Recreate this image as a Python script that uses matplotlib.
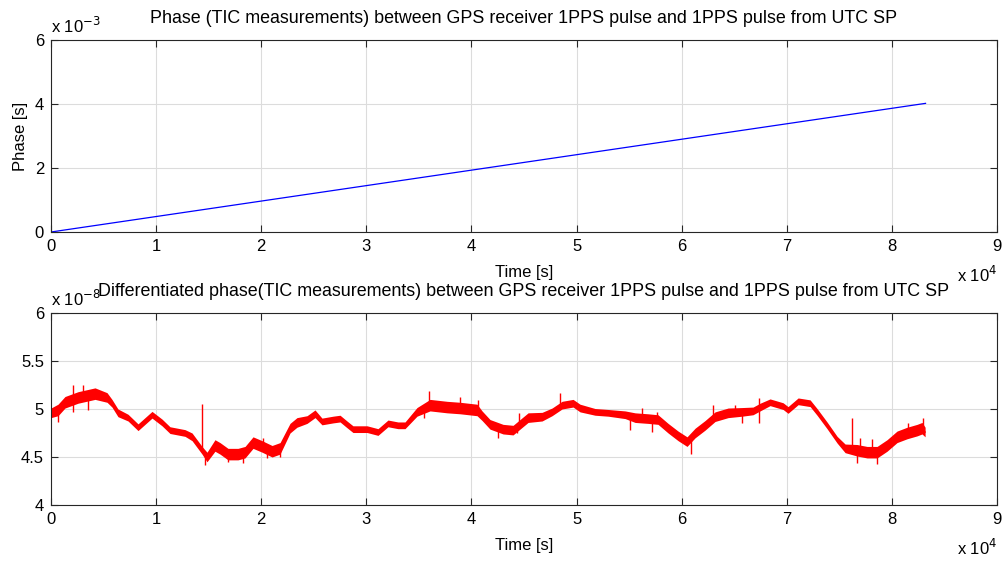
import numpy as np
import matplotlib
matplotlib.use("Agg")
import matplotlib.pyplot as plt

# ---------------- data ----------------
# top: phase (linear drift)
phase_time = [0, 83200]
phase_ms = [0.0, 4.02]          # x 1e-3 s

# bottom: differentiated phase, centre of the noisy band (x 1e-8)
diff_time = [0, 670, 1330, 2570, 4190, 5330, 5800, 6370, 7330, 8280, 9610, 10560,
             11320, 12750, 13420, 14370, 14840, 15600, 16080, 16840, 17790, 18460,
             19220, 20080, 21030, 21790, 22740, 23400, 24360, 25120, 25780, 26830,
             27500, 28160, 28730, 30070, 31110, 32060, 33010, 33680, 34820, 36060,
             37680, 38920, 40530, 41010, 41770, 43010, 43960, 44620, 45390, 46720,
             47670, 48620, 49670, 50330, 51760, 53000, 54620, 55570, 56800, 57750,
             58710, 59660, 60510, 61280, 62230, 63180, 64420, 65750, 66790, 67460,
             68410, 69650, 70120, 71080, 72220, 72880, 73830, 74790, 75550, 76690,
             77640, 78590, 79540, 80490, 81450, 82400, 82870, 83160]
diff_val = [4.96, 4.99, 5.07, 5.12, 5.16, 5.12, 5.06, 4.96, 4.91, 4.81, 4.94, 4.86,
            4.78, 4.75, 4.71, 4.57, 4.50, 4.62, 4.59, 4.53, 4.53, 4.55,
            4.65, 4.61, 4.56, 4.59, 4.80, 4.86, 4.89, 4.95, 4.87, 4.89,
            4.90, 4.84, 4.79, 4.79, 4.76, 4.85, 4.83, 4.83, 4.97, 5.04,
            5.02, 5.01, 4.99, 4.93, 4.84, 4.79, 4.78, 4.84, 4.91, 4.92,
            4.97, 5.04, 5.06, 5.01, 4.97, 4.96, 4.94, 4.91, 4.90, 4.89,
            4.80, 4.72, 4.66, 4.75, 4.83, 4.92, 4.96, 4.97, 4.98, 5.02,
            5.07, 5.03, 4.99, 5.08, 5.06, 4.97, 4.83, 4.68, 4.59, 4.57,
            4.55, 4.55, 4.62, 4.71, 4.75, 4.78, 4.80, 4.76]
# half thickness of the noise band (x 1e-8)
diff_halfwidth = [0.05, 0.06, 0.06, 0.06, 0.06, 0.05, 0.04, 0.04, 0.035, 0.035, 0.035, 0.035,
                  0.035, 0.035, 0.04, 0.04, 0.05, 0.06, 0.06, 0.06, 0.06, 0.06,
                  0.06, 0.06, 0.06, 0.06, 0.05, 0.05, 0.04, 0.04, 0.035, 0.035,
                  0.035, 0.035, 0.035, 0.035, 0.035, 0.035, 0.035, 0.035, 0.045, 0.06,
                  0.06, 0.06, 0.06, 0.05, 0.05, 0.05, 0.05, 0.05, 0.05, 0.045,
                  0.04, 0.04, 0.04, 0.04, 0.035, 0.035, 0.04, 0.05, 0.05, 0.05,
                  0.05, 0.05, 0.05, 0.05, 0.05, 0.05, 0.05, 0.045, 0.04, 0.04,
                  0.035, 0.035, 0.035, 0.035, 0.035, 0.035, 0.035, 0.035, 0.045, 0.06,
                  0.06, 0.06, 0.06, 0.06, 0.06, 0.06, 0.06, 0.05]
# visible isolated spikes: (time, tip value x1e-8)
spike_time = [670, 2090, 2090, 3040, 3520, 14370, 14650, 16840, 18270, 20170, 20550,
              21790, 35490, 35970, 38920, 40630, 42530, 44340, 44530, 48430, 55090,
              56230, 57180, 57660, 60890, 62990, 65080, 65750, 67360, 67360, 76210,
              76690, 76970, 78110, 78590, 81540, 82970]
spike_tip = [4.86, 4.97, 5.25, 5.25, 4.99, 5.05, 4.42, 4.45, 4.44, 4.70, 4.49,
             4.50, 4.91, 5.19, 5.13, 5.09, 4.70, 4.75, 4.96, 5.17, 4.78,
             5.01, 4.76, 4.97, 4.53, 5.04, 5.04, 4.85, 5.11, 4.85, 4.91,
             4.44, 4.70, 4.69, 4.43, 4.85, 4.91]

x_ticks = [0, 10000, 20000, 30000, 40000, 50000, 60000, 70000, 80000, 90000]
x_tick_labels = ["0", "1", "2", "3", "4", "5", "6", "7", "8", "9"]
top_y_ticks = [0, 0.002, 0.004, 0.006]
top_y_labels = ["0", "2", "4", "6"]
bot_y_ticks = [4e-8, 4.5e-8, 5e-8, 5.5e-8, 6e-8]
bot_y_labels = ["4", "4.5", "5", "5.5", "6"]

# ---------------- style ----------------
plt.rcParams['font.family'] = ['Liberation Sans', 'DejaVu Sans']
FS = 12
TFS = 12.9
axis_col = '#262626'

fig = plt.figure(figsize=(10.08, 5.66), dpi=100)
fig.patch.set_facecolor('white')

L, W = 51 / 1008, (997 - 51) / 1008
ax1 = fig.add_axes([L, 1 - 232 / 566, W, 192 / 566])
ax2 = fig.add_axes([L, 1 - 505 / 566, W, 192 / 566])


def style(ax):
    ax.set_xlim(0, 90000)
    ax.set_xticks(x_ticks)
    ax.set_xticklabels(x_tick_labels)
    ax.grid(True, color='#dcdcdc', linewidth=0.8)
    ax.set_axisbelow(True)
    for s in ax.spines.values():
        s.set_color(axis_col)
        s.set_linewidth(0.8)
    ax.tick_params(direction='in', length=5, width=0.8, colors=axis_col,
                   labelcolor='black', labelsize=FS, top=True, right=True, pad=5)
    ax.set_xlabel("Time [s]", fontsize=FS, labelpad=8)
    ax.text(1.0, -0.225, r"x 10$^{4}$", transform=ax.transAxes, ha='right',
            va='center', fontsize=FS)


# top
t1 = np.array(phase_time)
ax1.plot(t1, np.array(phase_ms) * 1e-3, color='blue', linewidth=0.9)
style(ax1)
ax1.set_ylim(0, 0.006)
ax1.set_yticks(top_y_ticks)
ax1.set_yticklabels(top_y_labels)
ax1.set_ylabel("Phase [s]", fontsize=FS, labelpad=5)
ax1.text(0.0, 1.02, r"x 10$^{-3}$", transform=ax1.transAxes, ha='left',
         va='bottom', fontsize=FS)
ax1.set_title("Phase (TIC measurements) between GPS receiver 1PPS pulse and 1PPS pulse from UTC SP",
              fontsize=TFS, pad=12)

# bottom
t2 = np.array(diff_time)
v2 = np.array(diff_val) * 1e-8
hw = np.array(diff_halfwidth) * 1e-8
ax2.fill_between(t2, v2 - hw, v2 + hw, color='red', linewidth=0)
ax2.plot(t2, v2, color='red', linewidth=1.0)
st = np.array(spike_time)
stip = np.array(spike_tip) * 1e-8
base = np.interp(st, t2, v2)
ax2.vlines(st, base, stip, color='red', linewidth=1.0)
style(ax2)
ax2.set_ylim(4e-8, 6e-8)
ax2.set_yticks(bot_y_ticks)
ax2.set_yticklabels(bot_y_labels)
ax2.text(0.0, 1.02, r"x 10$^{-8}$", transform=ax2.transAxes, ha='left',
         va='bottom', fontsize=FS)
ax2.set_title("Differentiated phase(TIC measurements) between GPS receiver 1PPS pulse and 1PPS pulse from UTC SP",
              fontsize=TFS, pad=12)

fig.savefig("out.png", dpi=100, facecolor='white')
